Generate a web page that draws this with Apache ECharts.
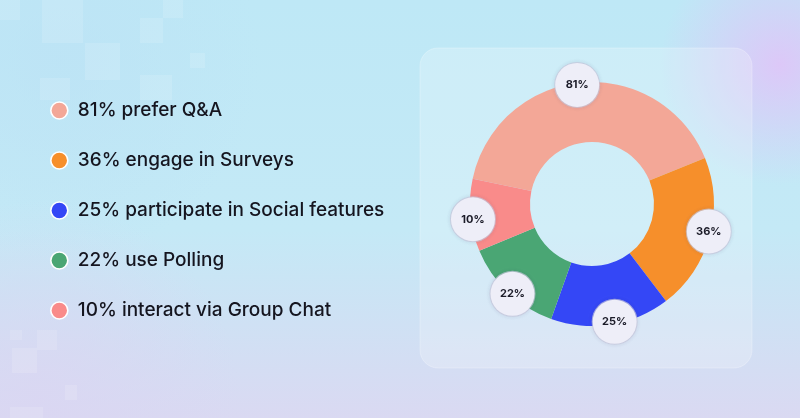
<!DOCTYPE html>
<html>
<head>
<meta charset="utf-8">
<script src="https://cdn.jsdelivr.net/npm/echarts@6/dist/echarts.min.js"></script>
<style>
  html, body { margin: 0; padding: 0; }
  #chart { width: 800px; height: 418px; }
</style>
</head>
<body>
<div id="chart"></div>
<script>
// legend texts, in slice order (clockwise from the left)
const categories = [
  "81% prefer Q&A",
  "36% engage in Surveys",
  "25% participate in Social features",
  "22% use Polling",
  "10% interact via Group Chat"
];
// percentages shown in the bubbles
const shares = [81, 36, 25, 22, 10];
// slice sizes as drawn in the picture (not proportional to the shares)
const sliceSizes = [40.5, 20.8, 15.8, 13.3, 9.6];
const colors = ["#f3a797", "#f68f2b", "#3447f6", "#4aa674", "#f98b8a"];

// faint squares in the background, [x, y, w, h]
const squares = [
  [0, 0, 20, 20], [42, 0, 41, 43], [85, 43, 35, 37], [140, 18, 23, 25],
  [163, 0, 20, 18], [190, 53, 15, 15], [140, 75, 32, 25], [40, 78, 30, 22],
  [10, 330, 12, 10], [37, 330, 20, 20], [12, 348, 25, 25], [65, 385, 12, 15],
  [10, 407, 33, 11]
];

const chartDom = document.getElementById("chart");
const myChart = echarts.init(chartDom);

const option = {
  animation: false,
  backgroundColor: new echarts.graphic.LinearGradient(0, 0, 0, 1, [
    { offset: 0, color: "#bee8f6" },
    { offset: 0.55, color: "#c4e9f6" },
    { offset: 1, color: "#dad9f2" }
  ]),
  graphic: [
    // bluish tint top left
    {
      type: "circle",
      shape: { cx: 60, cy: 60, r: 200 },
      style: {
        fill: new echarts.graphic.RadialGradient(0.5, 0.5, 0.5, [
          { offset: 0, color: "rgba(188,226,245,0.7)" },
          { offset: 1, color: "rgba(188,226,245,0)" }
        ])
      },
      silent: true
    },
    // lavender tint bottom left
    {
      type: "circle",
      shape: { cx: 40, cy: 400, r: 200 },
      style: {
        fill: new echarts.graphic.RadialGradient(0.5, 0.5, 0.5, [
          { offset: 0, color: "rgba(218,214,242,0.8)" },
          { offset: 1, color: "rgba(218,214,242,0)" }
        ])
      },
      silent: true
    },
    // purple glow top right
    {
      type: "circle",
      shape: { cx: 780, cy: 65, r: 120 },
      style: {
        fill: new echarts.graphic.RadialGradient(0.5, 0.5, 0.5, [
          { offset: 0, color: "rgba(222,198,248,0.95)" },
          { offset: 1, color: "rgba(222,198,248,0)" }
        ])
      },
      silent: true
    },
    ...squares.map((s) => ({
      type: "rect",
      shape: { x: s[0], y: s[1], width: s[2], height: s[3] },
      style: { fill: "rgba(255,255,255,0.13)" },
      silent: true
    })),
    // card behind the donut
    {
      type: "rect",
      shape: { x: 420, y: 48, width: 332, height: 320, r: 18 },
      style: {
        fill: "rgba(255,255,255,0.22)",
        stroke: "rgba(255,255,255,0.25)",
        lineWidth: 1
      },
      silent: true
    }
  ],
  legend: {
    orient: "vertical",
    left: 45,
    top: 96,
    itemWidth: 17,
    itemHeight: 17,
    itemGap: 31,
    icon: "circle",
    selectedMode: false,
    data: categories,
    itemStyle: { borderColor: "#ffffff", borderWidth: 1.6 },
    textStyle: {
      fontFamily: "Inter",
      fontSize: 19,
      fontWeight: 500,
      color: "#15151f",
      padding: [0, 0, 0, 5]
    }
  },
  series: [
    {
      name: "features",
      type: "pie",
      center: [592, 204],
      radius: [62, 122],
      startAngle: 168,
      clockwise: true,
      silent: true,
      label: { show: false },
      labelLine: { show: false },
      data: categories.map((name, i) => ({
        name: name,
        value: sliceSizes[i],
        itemStyle: { color: colors[i] }
      }))
    },
    {
      name: "bubbles",
      type: "pie",
      center: [592, 204],
      radius: [115, 119],
      startAngle: 170,
      clockwise: true,
      silent: true,
      itemStyle: { color: "rgba(0,0,0,0)" },
      labelLine: { show: false },
      label: {
        show: true,
        position: "inside",
        formatter: "{b}",
        width: 44,
        height: 44,
        lineHeight: 44,
        align: "center",
        verticalAlign: "middle",
        borderRadius: 22,
        backgroundColor: "#eeeef8",
        borderColor: "rgba(205,205,225,0.7)",
        borderWidth: 1,
        shadowBlur: 4,
        shadowColor: "rgba(60,60,100,0.12)",
        fontFamily: "Inter",
        fontSize: 11,
        fontWeight: "bold",
        color: "#1b1b28"
      },
      data: shares.map((v, i) => ({
        name: v + "%",
        value: sliceSizes[i]
      }))
    }
  ]
};

myChart.setOption(option);
</script>
</body>
</html>
